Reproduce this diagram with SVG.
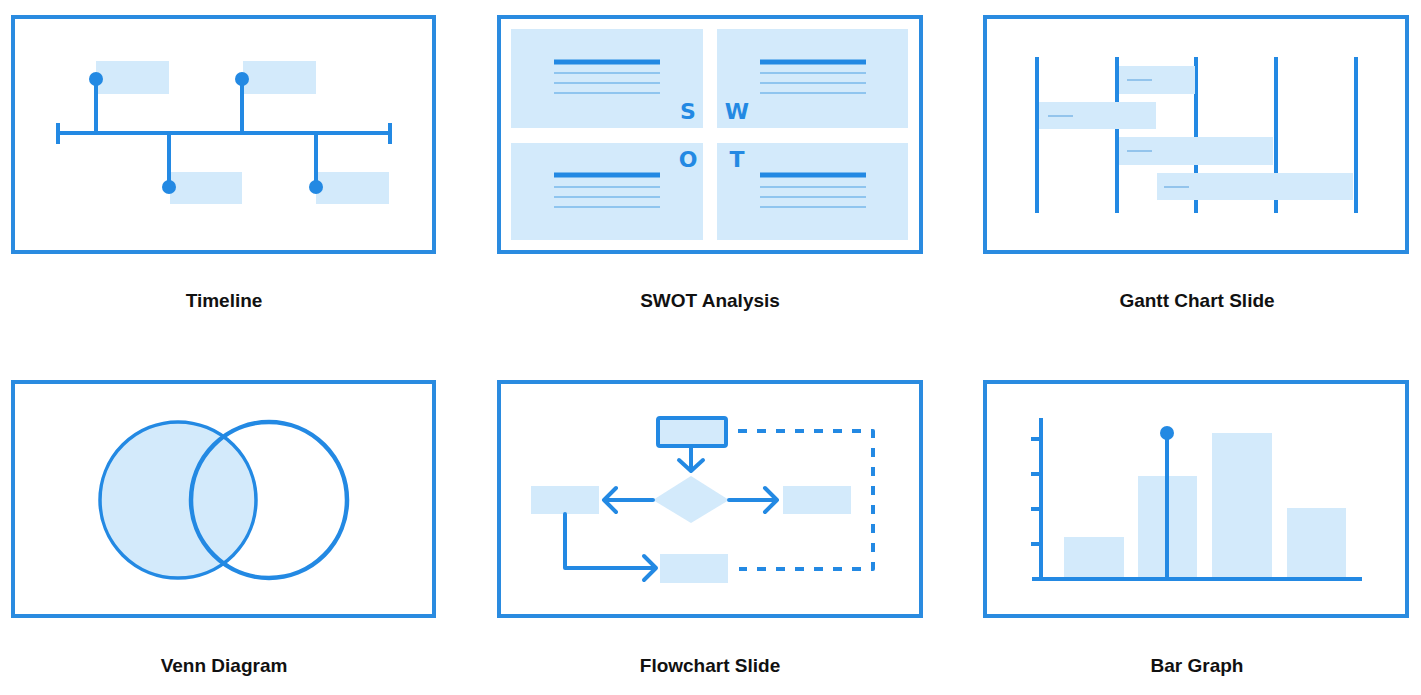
<svg xmlns="http://www.w3.org/2000/svg" width="1421" height="695" viewBox="0 0 1421 695">
<style>
.frame{fill:#fff;stroke:#2a8be0;stroke-width:4}
.ln{stroke:#2389e3;stroke-width:4;fill:none;stroke-linecap:butt}
.lt{fill:#d3eafb}
.dot{fill:#2389e3}
.thin{stroke:#8fc5ef;stroke-width:2}
.thick{stroke:#2389e3;stroke-width:5}
.dash{stroke:#93c4ec;stroke-width:2}
.letter{font-family:"DejaVu Sans","Liberation Sans",sans-serif;font-weight:bold;font-size:22px;fill:#2389e3;text-anchor:middle}
.label{font-family:"Liberation Sans",Arial,sans-serif;font-weight:bold;font-size:19px;fill:#111;text-anchor:middle}
</style>
<rect width="1421" height="695" fill="#fff"/>

<g id="timeline">
<rect class="frame" x="13" y="17" width="421" height="235"/>
<rect class="lt" x="96" y="61" width="73" height="33"/>
<rect class="lt" x="243" y="61" width="73" height="33"/>
<rect class="lt" x="170" y="172" width="72" height="32"/>
<rect class="lt" x="316" y="172" width="73" height="32"/>
<line class="ln" x1="58" y1="133" x2="390" y2="133" stroke-width="5"/>
<line class="ln" x1="58" y1="123" x2="58" y2="144"/>
<line class="ln" x1="390" y1="123" x2="390" y2="144"/>
<line class="ln" x1="96" y1="79" x2="96" y2="133"/>
<line class="ln" x1="242" y1="79" x2="242" y2="133"/>
<line class="ln" x1="169" y1="133" x2="169" y2="187"/>
<line class="ln" x1="316" y1="133" x2="316" y2="187"/>
<circle class="dot" cx="96" cy="79" r="7"/>
<circle class="dot" cx="242" cy="79" r="7"/>
<circle class="dot" cx="169" cy="187" r="7"/>
<circle class="dot" cx="316" cy="187" r="7"/>
<text class="label" x="224" y="307">Timeline</text>
</g>

<g id="swot">
<rect class="frame" x="499" y="17" width="422" height="235"/>
<rect class="lt" x="511" y="29" width="192" height="99"/>
<rect class="lt" x="717" y="29" width="191" height="99"/>
<rect class="lt" x="511" y="143" width="192" height="97"/>
<rect class="lt" x="717" y="143" width="191" height="97"/>
<line class="thick" x1="554" y1="62" x2="660" y2="62"/>
<line class="thin" x1="554" y1="73" x2="660" y2="73"/>
<line class="thin" x1="554" y1="83" x2="660" y2="83"/>
<line class="thin" x1="554" y1="93" x2="660" y2="93"/>
<line class="thick" x1="760" y1="62" x2="866" y2="62"/>
<line class="thin" x1="760" y1="73" x2="866" y2="73"/>
<line class="thin" x1="760" y1="83" x2="866" y2="83"/>
<line class="thin" x1="760" y1="93" x2="866" y2="93"/>
<line class="thick" x1="554" y1="175" x2="660" y2="175"/>
<line class="thin" x1="554" y1="187" x2="660" y2="187"/>
<line class="thin" x1="554" y1="197" x2="660" y2="197"/>
<line class="thin" x1="554" y1="207" x2="660" y2="207"/>
<line class="thick" x1="760" y1="175" x2="866" y2="175"/>
<line class="thin" x1="760" y1="187" x2="866" y2="187"/>
<line class="thin" x1="760" y1="197" x2="866" y2="197"/>
<line class="thin" x1="760" y1="207" x2="866" y2="207"/>
<text class="letter" x="688" y="119">S</text>
<text class="letter" x="737" y="119">W</text>
<text class="letter" x="688" y="167">O</text>
<text class="letter" x="737" y="167">T</text>
<text class="label" x="710" y="307">SWOT Analysis</text>
</g>

<g id="gantt">
<rect class="frame" x="985" y="17" width="422" height="235"/>
<line class="ln" x1="1037" y1="57" x2="1037" y2="213"/>
<line class="ln" x1="1117" y1="57" x2="1117" y2="213"/>
<line class="ln" x1="1196" y1="57" x2="1196" y2="213"/>
<line class="ln" x1="1276" y1="57" x2="1276" y2="213"/>
<line class="ln" x1="1356" y1="57" x2="1356" y2="213"/>
<rect class="lt" x="1119" y="66" width="76" height="28"/>
<rect class="lt" x="1039" y="102" width="117" height="27"/>
<rect class="lt" x="1119" y="137" width="154" height="28"/>
<rect class="lt" x="1157" y="173" width="196" height="27"/>
<line class="dash" x1="1127" y1="80" x2="1152" y2="80"/>
<line class="dash" x1="1048" y1="116" x2="1073" y2="116"/>
<line class="dash" x1="1127" y1="151" x2="1152" y2="151"/>
<line class="dash" x1="1164" y1="187" x2="1189" y2="187"/>
<text class="label" x="1197" y="307">Gantt Chart Slide</text>
</g>

<g id="venn">
<rect class="frame" x="13" y="382" width="421" height="234"/>
<circle cx="178" cy="500" r="78" fill="#d3eafb" stroke="#2389e3" stroke-width="3.5"/>
<circle cx="269" cy="500" r="78" fill="none" stroke="#2389e3" stroke-width="4.5"/>
<text class="label" x="224" y="672">Venn Diagram</text>
</g>

<g id="flowchart">
<rect class="frame" x="499" y="382" width="422" height="234"/>
<rect x="658" y="418" width="68" height="28" rx="2" fill="#d3eafb" stroke="#2389e3" stroke-width="4"/>
<polygon class="lt" points="691,476 729,500 691,523 653,500"/>
<rect class="lt" x="531" y="486" width="68" height="28"/>
<rect class="lt" x="783" y="486" width="68" height="28"/>
<rect class="lt" x="660" y="554" width="68" height="29"/>
<text class="label" x="710" y="672">Flowchart Slide</text>
</g>

<g id="connectors" fill="none" stroke="#2389e3" stroke-width="4" stroke-linecap="round" stroke-linejoin="round">
<path d="M691 447 V470 M679 460 L691 471 L703 460"/>
<path d="M653 500 H604 M616 488 L604 500 L616 512"/>
<path d="M729 500 H777 M765 488 L777 500 L765 512"/>
<path d="M565 514 V568 H656 M644 556 L656 568 L644 580"/>
<path d="M738 431 H873 V569 H739" stroke-dasharray="9 10" stroke-linecap="butt"/>
</g>

<g id="bargraph">
<rect class="frame" x="985" y="382" width="422" height="234"/>
<rect class="lt" x="1064" y="537" width="60" height="42"/>
<rect class="lt" x="1138" y="476" width="59" height="103"/>
<rect class="lt" x="1212" y="433" width="60" height="146"/>
<rect class="lt" x="1287" y="508" width="59" height="71"/>
<line class="ln" x1="1041" y1="418" x2="1041" y2="580"/>
<line class="ln" x1="1031" y1="439" x2="1041" y2="439"/>
<line class="ln" x1="1031" y1="474" x2="1041" y2="474"/>
<line class="ln" x1="1031" y1="509" x2="1041" y2="509"/>
<line class="ln" x1="1031" y1="544" x2="1041" y2="544"/>
<line class="ln" x1="1032" y1="579" x2="1362" y2="579"/>
<line class="ln" x1="1167" y1="433" x2="1167" y2="579"/>
<circle class="dot" cx="1167" cy="433" r="7"/>
<text class="label" x="1197" y="672">Bar Graph</text>
</g>
</svg>
